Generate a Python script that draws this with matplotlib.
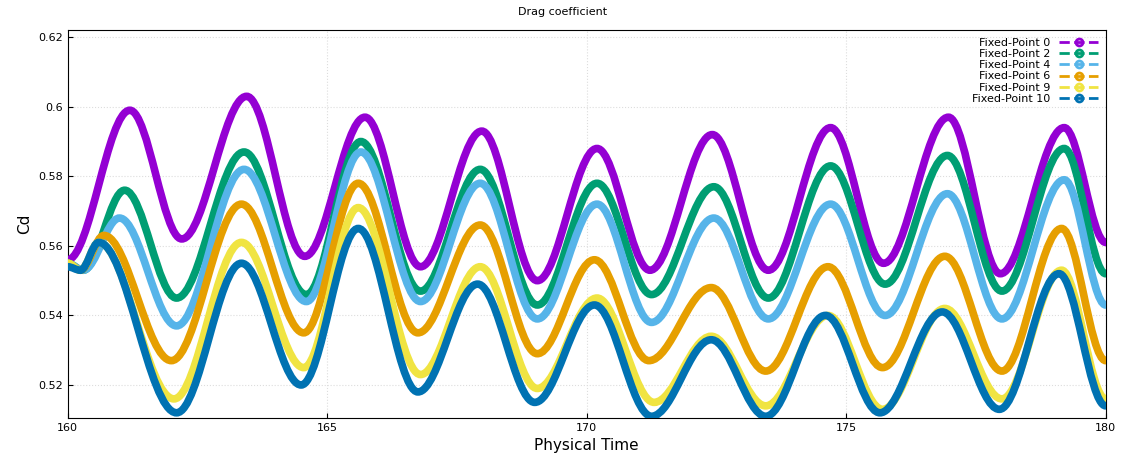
import matplotlib
matplotlib.use("Agg")
import matplotlib.pyplot as plt
from matplotlib.path import Path
from matplotlib.patches import PathPatch
from matplotlib.lines import Line2D

# extrema (time, Cd) of each series
t_fp0 = [160.0, 161.2, 162.2, 163.45, 164.57, 165.73, 166.8, 167.98, 169.05, 170.2, 171.22, 172.42, 173.5, 174.7, 175.72, 176.97, 177.97, 179.2, 180.0]
cd_fp0 = [0.556, 0.599, 0.562, 0.603, 0.557, 0.597, 0.554, 0.593, 0.550, 0.588, 0.553, 0.592, 0.553, 0.594, 0.555, 0.597, 0.552, 0.594, 0.561]

t_fp2 = [160.0, 160.3, 161.1, 162.1, 163.4, 164.6, 165.65, 166.8, 167.95, 169.05, 170.2, 171.25, 172.45, 173.5, 174.7, 175.75, 176.95, 178.0, 179.2, 180.0]
cd_fp2 = [0.555, 0.553, 0.576, 0.545, 0.587, 0.546, 0.590, 0.547, 0.582, 0.543, 0.578, 0.546, 0.577, 0.545, 0.583, 0.549, 0.586, 0.547, 0.588, 0.552]

t_fp4 = [160.0, 160.3, 161.0, 162.1, 163.4, 164.6, 165.65, 166.8, 167.95, 169.05, 170.2, 171.25, 172.45, 173.5, 174.7, 175.75, 176.95, 178.0, 179.2, 180.0]
cd_fp4 = [0.555, 0.553, 0.568, 0.537, 0.582, 0.544, 0.587, 0.544, 0.578, 0.539, 0.572, 0.538, 0.568, 0.539, 0.572, 0.540, 0.575, 0.539, 0.579, 0.543]

t_fp6 = [160.0, 160.25, 160.7, 162.0, 163.35, 164.55, 165.6, 166.75, 167.95, 169.05, 170.15, 171.2, 172.4, 173.45, 174.65, 175.7, 176.9, 178.0, 179.15, 180.0]
cd_fp6 = [0.555, 0.553, 0.563, 0.527, 0.572, 0.535, 0.578, 0.535, 0.566, 0.529, 0.556, 0.527, 0.548, 0.524, 0.554, 0.525, 0.557, 0.524, 0.565, 0.527]

t_fp9 = [160.0, 160.25, 160.6, 162.05, 163.35, 164.55, 165.6, 166.8, 167.95, 169.05, 170.2, 171.3, 172.4, 173.45, 174.65, 175.7, 176.9, 178.0, 179.15, 180.0]
cd_fp9 = [0.555, 0.553, 0.561, 0.516, 0.561, 0.525, 0.571, 0.523, 0.554, 0.519, 0.545, 0.515, 0.534, 0.514, 0.540, 0.513, 0.542, 0.516, 0.553, 0.516]

t_fp10 = [160.0, 160.25, 160.6, 162.1, 163.35, 164.5, 165.6, 166.75, 167.9, 169.0, 170.15, 171.25, 172.4, 173.45, 174.6, 175.65, 176.85, 177.95, 179.1, 180.0]
cd_fp10 = [0.554, 0.553, 0.561, 0.512, 0.555, 0.520, 0.565, 0.518, 0.549, 0.515, 0.543, 0.511, 0.533, 0.511, 0.540, 0.512, 0.541, 0.513, 0.552, 0.514]

labels = ["Fixed-Point 0", "Fixed-Point 2", "Fixed-Point 4", "Fixed-Point 6", "Fixed-Point 9", "Fixed-Point 10"]
colors = ["#9400d3", "#009e73", "#56b4e9", "#e69f00", "#f0e442", "#0072b2"]
series = [(t_fp0, cd_fp0), (t_fp2, cd_fp2), (t_fp4, cd_fp4),
          (t_fp6, cd_fp6), (t_fp9, cd_fp9), (t_fp10, cd_fp10)]


def smooth_path(xs, ys):
    # cubic bezier through extrema, flat tangents at each point
    verts = [(xs[0], ys[0])]
    codes = [Path.MOVETO]
    for i in range(1, len(xs)):
        dx = xs[i] - xs[i - 1]
        verts += [(xs[i - 1] + 0.36 * dx, ys[i - 1]), (xs[i] - 0.36 * dx, ys[i]), (xs[i], ys[i])]
        codes += [Path.CURVE4] * 3
    return Path(verts, codes)


fig, ax = plt.subplots(figsize=(11.26, 4.66), dpi=100)
fig.subplots_adjust(left=0.06, right=0.982, top=0.935, bottom=0.103)
ax.set_axisbelow(True)

handles = []
for (t, cd), c, lab in zip(series, colors, labels):
    ax.add_patch(PathPatch(smooth_path(t, cd), fill=False, edgecolor=c, lw=5.5, capstyle="round", zorder=3))
    handles.append(Line2D([], [], color=c, ls="--", lw=2, marker="o", mfc="none", mew=2, ms=5))

ax.set_xlim(160, 180)
ax.set_ylim(0.5105, 0.622)
ax.set_xticks([160, 165, 170, 175, 180])
ax.set_yticks([0.52, 0.54, 0.56, 0.58, 0.6, 0.62])
ax.set_yticklabels(["0.52", "0.54", "0.56", "0.58", "0.6", "0.62"])
ax.tick_params(labelsize=8, direction="in")
ax.grid(True, ls=":", color="#dddddd", lw=0.8)
ax.set_xlabel("Physical Time", fontsize=11)
ax.set_ylabel("Cd", fontsize=11)
fig.suptitle("Drag coefficient", fontsize=8, y=0.985)

leg = ax.legend(handles, labels, loc="upper right", frameon=False, fontsize=8,
                markerfirst=False, handlelength=3.5, labelspacing=0.1, borderaxespad=0.3)
for txt in leg.get_texts():
    txt.set_ha("right")

fig.savefig("out.png")
